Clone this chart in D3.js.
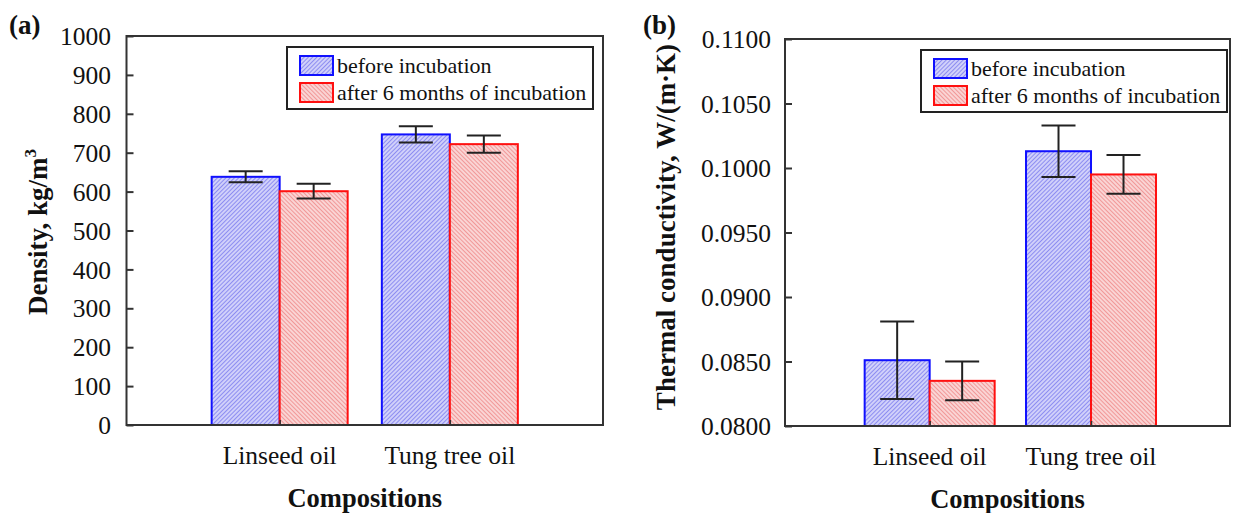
<!DOCTYPE html>
<html><head><meta charset="utf-8">
<script src="https://cdn.jsdelivr.net/npm/d3@7"></script>
<style>body{margin:0;background:#fff}svg{display:block}text{font-family:"Liberation Serif","Times New Roman",serif;fill:#111}</style>
</head><body><svg id="c" width="1233" height="513"></svg>
<script>
const categories = ["Linseed oil", "Tung tree oil"];
const seriesNames = ["before incubation", "after 6 months of incubation"];
const densityBefore = [638, 747];
const densityBeforeErr = [14, 21];
const densityAfter = [601, 722];
const densityAfterErr = [19, 22];
const condBefore = [0.0851, 0.1013];
const condBeforeErr = [0.0030, 0.0020];
const condAfter = [0.0835, 0.0995];
const condAfterErr = [0.0015, 0.0015];
const densityTicks = [0,100,200,300,400,500,600,700,800,900,1000];
const condTicks = [0.0800,0.0850,0.0900,0.0950,0.1000,0.1050,0.1100];

const SERIF = "'Liberation Serif','Times New Roman',serif";
const svg = d3.select("#c");
const defs = svg.append("defs");
function pat(id, bg, fg, ang){
  const p = defs.append("pattern").attr("id", id).attr("patternUnits","userSpaceOnUse")
    .attr("width",3).attr("height",3).attr("patternTransform","rotate("+ang+")");
  p.append("rect").attr("width",3).attr("height",3).attr("fill",bg);
  p.append("line").attr("x1",0).attr("y1",0).attr("x2",0).attr("y2",3).attr("stroke",fg).attr("stroke-width",1.4);
}
pat("hb","#d0d0fa","#7070ee",45);
pat("hr","#fad4d4","#ee7e7e",-45);
const fills = ["url(#hb)","url(#hr)"];
const strokes = ["#1010ff","#ff1010"];

function panel(o){
  const g = svg.append("g");
  const y = d3.scaleLinear().domain(o.domain).range([o.bottom, o.top]);
  const x = d3.scalePoint().domain(categories).range([o.left, o.right]).padding(o.pad).align(o.align);
  const s = d3.scaleBand().domain(seriesNames).range([-o.bw, o.bw]);
  const data = [];
  o.vals.forEach((arr,si)=>arr.forEach((v,ci)=>data.push({c:categories[ci], s:seriesNames[si], si, v, e:o.errs[si][ci]})));
  g.selectAll("rect.bar").data(data).join("rect").attr("class","bar")
    .attr("x", d=>x(d.c)+s(d.s)).attr("width", s.bandwidth())
    .attr("y", d=>y(d.v)).attr("height", d=>y(o.domain[0])-y(d.v))
    .attr("fill", d=>fills[d.si]).attr("stroke", d=>strokes[d.si]).attr("stroke-width",2);
  const eb = g.selectAll("g.eb").data(data).join("g").attr("class","eb")
    .attr("transform", d=>`translate(${x(d.c)+s(d.s)+s.bandwidth()/2},0)`);
  eb.append("line").attr("y1", d=>y(d.v+d.e)).attr("y2", d=>y(d.v-d.e)).attr("stroke","#222").attr("stroke-width",2);
  eb.append("line").attr("x1",-17).attr("x2",17).attr("y1", d=>y(d.v+d.e)).attr("y2", d=>y(d.v+d.e)).attr("stroke","#222").attr("stroke-width",2);
  eb.append("line").attr("x1",-17).attr("x2",17).attr("y1", d=>y(d.v-d.e)).attr("y2", d=>y(d.v-d.e)).attr("stroke","#222").attr("stroke-width",2);
  g.append("rect").attr("x",o.left).attr("y",o.top).attr("width",o.right-o.left).attr("height",o.bottom-o.top)
    .attr("fill","none").attr("stroke","#333").attr("stroke-width",2);
  const ya = g.append("g").attr("transform",`translate(${o.left},0)`)
    .call(d3.axisRight(y).tickValues(o.ticks).tickFormat(o.fmt).tickSize(7));
  ya.attr("font-family",null).attr("font-size",null);
  ya.select(".domain").remove();
  ya.selectAll(".tick line").attr("stroke","#333").attr("stroke-width",2);
  ya.selectAll(".tick text").attr("text-anchor","end").attr("x", -(o.left-o.labelRight)).attr("dy","0.34em")
    .style("font-family",SERIF).style("font-size","25.5px").style("fill","#111");
  const xa = g.append("g").attr("transform",`translate(0,${o.bottom})`)
    .call(d3.axisTop(x).tickSize(5).tickFormat(""));
  xa.select(".domain").remove();
  xa.selectAll(".tick line").attr("stroke","#333").attr("stroke-width",1.5);
  g.selectAll("text.cat").data(categories).join("text").attr("class","cat")
    .attr("x", d=>x(d)).attr("y", o.bottom+39).attr("text-anchor","middle").style("font-size","25.5px").text(d=>d);
  g.append("text").attr("x",(o.left+o.right)/2 + o.xtOff).attr("y",o.bottom+82).attr("text-anchor","middle")
    .style("font-size","26.5px").attr("font-weight","bold").text("Compositions");
  const yt = g.append("text").attr("transform",`translate(${o.ytX},${o.ytY}) rotate(-90)`)
    .attr("text-anchor","middle").style("font-size",o.ytSize+"px").attr("font-weight","bold");
  o.ytitle(yt);
  g.append("text").attr("x",o.tagX).attr("y",34).style("font-size","27px").attr("font-weight","bold").text(o.tag);
  const lg = g.append("g");
  lg.append("rect").attr("x",o.lx).attr("y",o.ly).attr("width",306).attr("height",62)
    .attr("fill","#fff").attr("stroke","#222").attr("stroke-width",2);
  seriesNames.forEach((n,i)=>{
    lg.append("rect").attr("x",o.lx+13).attr("y",o.ly+9+i*27).attr("width",33).attr("height",19)
      .attr("fill",fills[i]).attr("stroke",strokes[i]).attr("stroke-width",2);
    lg.append("text").attr("x",o.lx+50).attr("y",o.ly+26+i*27).style("font-size","22px").text(n);
  });
}

panel({left:126.5,right:603,top:36,bottom:425,domain:[0,1000],ticks:densityTicks,fmt:d3.format("d"),
  pad:0.9,align:0.5,bw:68,vals:[densityBefore,densityAfter],errs:[densityBeforeErr,densityAfterErr],
  labelRight:111,ytX:47,ytY:232,ytSize:27,xtOff:0,tag:"(a)",tagX:9,lx:287,ly:47,
  ytitle:t=>{t.append("tspan").text("Density, kg/m");t.append("tspan").style("font-size","17px").attr("dy",-11).text("3");}});

panel({left:785,right:1230,top:39,bottom:426,domain:[0.08,0.11],ticks:condTicks,fmt:d3.format(".4f"),
  pad:0.879,align:0.51,bw:65,vals:[condBefore,condAfter],errs:[condBeforeErr,condAfterErr],
  labelRight:771,ytX:675,ytY:227,ytSize:27,xtOff:0,tag:"(b)",tagX:643,lx:921,ly:50,
  ytitle:t=>t.text("Thermal conductivity, W/(m·K)")});
</script></body></html>
